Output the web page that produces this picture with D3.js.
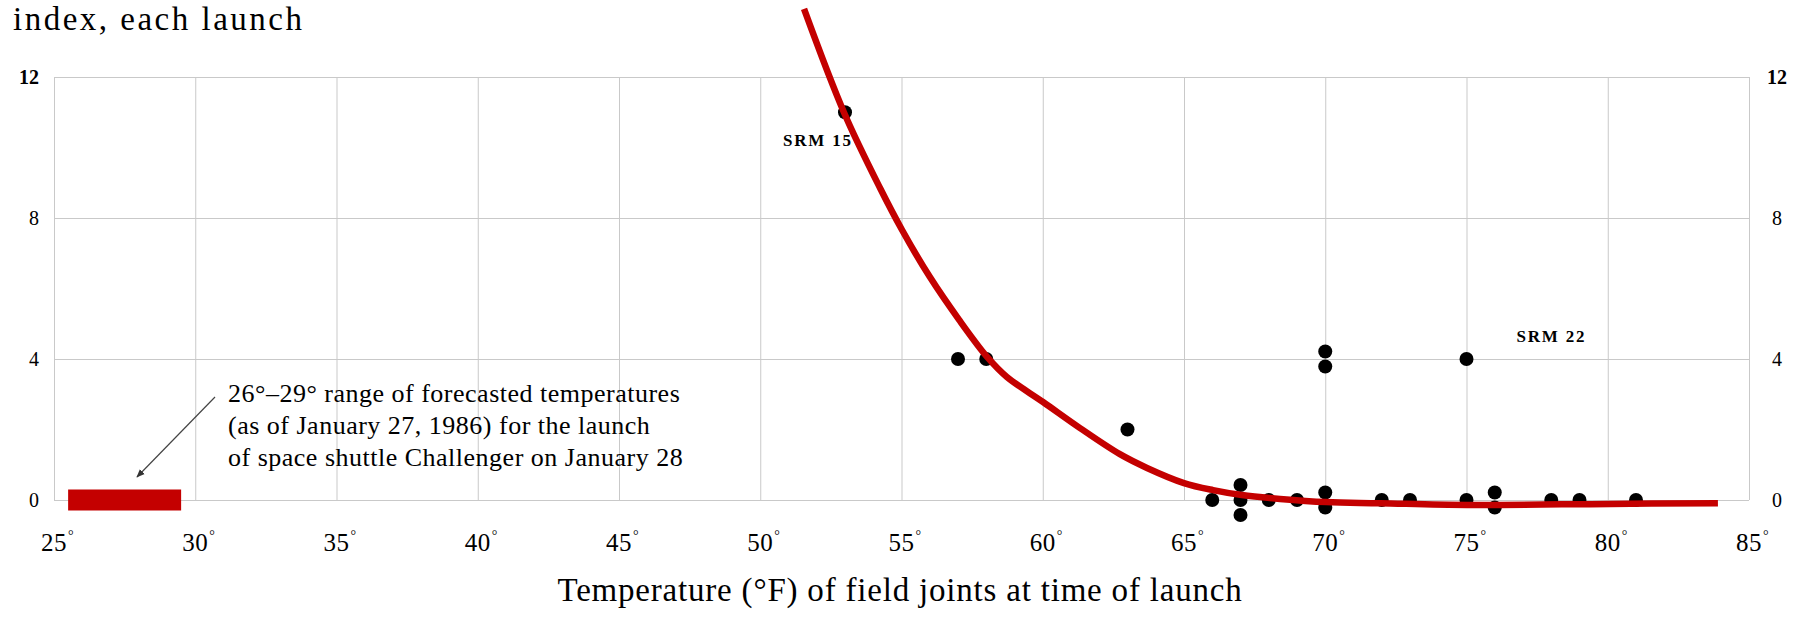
<!DOCTYPE html>
<html>
<head>
<meta charset="utf-8">
<script src="https://cdn.jsdelivr.net/npm/d3@7"></script>
<style>
body { margin: 0; background: #fff; }
svg { display: block; font-family: 'Liberation Serif', 'DejaVu Serif', serif; }
.grid line { stroke: #c9c9c9; stroke-width: 1; }
</style>
</head>
<body>
<svg id="chart" width="1806" height="620"></svg>
<script>
// each launch: joint temperature (F) and O-ring damage index
const launchTemps = [53, 57, 58, 63, 66, 67, 67, 67, 68, 69, 70, 70, 70, 70, 72, 73, 75, 75, 76, 76, 78, 79, 81]
const damageIndex = [11, 4, 4, 2, 0, 0, 0, 0, 0, 0, 4, 4, 0, 0, 0, 0, 0, 4, 0, 0, 0, 0, 0]

// the fitted curve
const curveTemps = [51.55, 52.96, 54.24, 55.02, 56.0, 57.04, 58.03, 58.73, 60.01, 61.32, 62.73, 63.69, 65.0, 66.03, 67.05, 68.4, 70.03, 71.94, 75.02, 80.08, 83.9]
const curveIndex = [13.93, 11.0, 8.85, 7.66, 6.33, 5.11, 4.06, 3.49, 2.78, 2.04, 1.30, 0.91, 0.48, 0.28, 0.14, 0.03, -0.06, -0.09, -0.14, -0.11, -0.09]

const xTicks = [25, 30, 35, 40, 45, 50, 55, 60, 65, 70, 75, 80, 85]
const yTicks = [0, 4, 8, 12]

const forecastRange = [26, 29]
const noteLines = [
	'26°–29° range of forecasted temperatures',
	'(as of January 27, 1986) for the launch',
	'of space shuttle Challenger on January 28'
]
const srmNames = ['SRM 15', 'SRM 22']
const srmTemps = [53, 75]
const srmIndex = [11, 4]

const titleText = 'index, each launch'
const xTitle = 'Temperature (°F) of field joints at time of launch'

const red = '#c40000'

function stackOffsets(temps, values, step) {
	var counts = {}
	var seen = {}
	for (var i = 0; i < temps.length; i++) {
		var key = temps[i] + '_' + values[i]
		counts[key] = (counts[key] || 0) + 1
	}
	var offsets = []
	for (var i = 0; i < temps.length; i++) {
		var key = temps[i] + '_' + values[i]
		var k = seen[key] || 0
		seen[key] = k + 1
		offsets.push((k - (counts[key] - 1) / 2) * step)
	}
	return offsets
}

function drawChart() {
	const svg = d3.select('#chart')

	const xScale = d3.scaleLinear().domain([25, 85]).range([54, 1749])
	const yScale = d3.scaleLinear().domain([0, 12]).range([500, 77])

	// grid
	svg.append('g')
		.attr('class', 'grid')
		.attr('transform', `translate(0, ${yScale(0)})`)
		.call(d3.axisBottom(xScale).tickValues(xTicks).tickSize(-(yScale(0) - yScale(12))).tickFormat(''))
		.call(g => g.select('.domain').remove())

	svg.append('g')
		.attr('class', 'grid')
		.attr('transform', `translate(${xScale(25)}, 0)`)
		.call(d3.axisLeft(yScale).tickValues(yTicks).tickSize(-(xScale(85) - xScale(25))).tickFormat(''))
		.call(g => g.select('.domain').remove())

	// y labels, both sides
	svg.selectAll('.ylab-left')
		.data(yTicks)
		.enter()
		.append('text')
		.attr('x', 39)
		.attr('y', d => yScale(d))
		.attr('dy', '0.35em')
		.attr('text-anchor', 'end')
		.attr('font-size', 20)
		.attr('font-weight', d => d === 12 ? 'bold' : 'normal')
		.text(d => d)

	svg.selectAll('.ylab-right')
		.data(yTicks)
		.enter()
		.append('text')
		.attr('x', 1777)
		.attr('y', d => yScale(d))
		.attr('dy', '0.35em')
		.attr('text-anchor', 'middle')
		.attr('font-size', 20)
		.attr('font-weight', d => d === 12 ? 'bold' : 'normal')
		.text(d => d)

	// x labels with degree marks
	const xLabs = svg.selectAll('.xlab')
		.data(xTicks)
		.enter()
		.append('g')
		.attr('class', 'xlab')
	xLabs.append('text')
		.attr('x', d => xScale(d))
		.attr('y', 551)
		.attr('text-anchor', 'middle')
		.attr('font-size', 25)
		.attr('letter-spacing', 0.5)
		.text(d => d)
	xLabs.each(function (d) {
		const w = d3.select(this).select('text').node().getComputedTextLength()
		d3.select(this).append('text')
			.attr('x', xScale(d) + w / 2 + 1)
			.attr('y', 540)
			.attr('font-size', 14)
			.text('°')
	})

	svg.append('text')
		.attr('x', 900)
		.attr('y', 601)
		.attr('text-anchor', 'middle')
		.attr('font-size', 33)
		.attr('letter-spacing', 0.8)
		.text(xTitle)

	svg.append('text')
		.attr('x', 13)
		.attr('y', 30)
		.attr('font-size', 33)
		.attr('letter-spacing', 2.5)
		.text(titleText)

	// forecast range bar
	svg.append('rect')
		.attr('x', xScale(forecastRange[0] - 0.5))
		.attr('y', yScale(0) - 10.5)
		.attr('width', xScale(forecastRange[1] + 0.5) - xScale(forecastRange[0] - 0.5))
		.attr('height', 21)
		.attr('fill', red)

	// note and arrow
	svg.append('defs').append('marker')
		.attr('id', 'arrowhead')
		.attr('viewBox', '0 0 10 10')
		.attr('refX', 9)
		.attr('refY', 5)
		.attr('markerWidth', 7)
		.attr('markerHeight', 7)
		.attr('orient', 'auto')
		.append('path')
		.attr('d', 'M0,1 L10,5 L0,9 Z')
		.attr('fill', '#333')

	svg.append('line')
		.attr('x1', 215)
		.attr('y1', 397)
		.attr('x2', 137)
		.attr('y2', 477)
		.attr('stroke', '#444')
		.attr('stroke-width', 1.2)
		.attr('marker-end', 'url(#arrowhead)')

	svg.selectAll('.note')
		.data(noteLines)
		.enter()
		.append('text')
		.attr('x', 228)
		.attr('y', (d, i) => 402 + i * 32)
		.attr('font-size', 26)
		.attr('letter-spacing', 0.5)
		.text(d => d)

	// SRM labels
	const labelDx = [-62, 50]
	const labelDy = [34, -17]
	svg.selectAll('.srm')
		.data(srmNames)
		.enter()
		.append('text')
		.attr('x', (d, i) => xScale(srmTemps[i]) + labelDx[i])
		.attr('y', (d, i) => yScale(srmIndex[i]) + labelDy[i])
		.attr('font-size', 17)
		.attr('font-weight', 'bold')
		.attr('letter-spacing', 1.8)
		.text(d => d)

	// dots, duplicates stacked
	const offsets = stackOffsets(launchTemps, damageIndex, 15)
	svg.selectAll('.dot')
		.data(launchTemps)
		.enter()
		.append('circle')
		.attr('cx', d => xScale(d))
		.attr('cy', (d, i) => yScale(damageIndex[i]) + offsets[i])
		.attr('r', 7)
		.attr('fill', '#000')

	// fitted curve
	const curvePoints = curveTemps.map((t, i) => [t, curveIndex[i]])
	const line = d3.line()
		.x(d => xScale(d[0]))
		.y(d => yScale(d[1]))
		.curve(d3.curveCatmullRom.alpha(0.5))
	svg.append('path')
		.datum(curvePoints)
		.attr('d', line)
		.attr('fill', 'none')
		.attr('stroke', red)
		.attr('stroke-width', 6.5)
}

drawChart()
</script>
</body>
</html>
